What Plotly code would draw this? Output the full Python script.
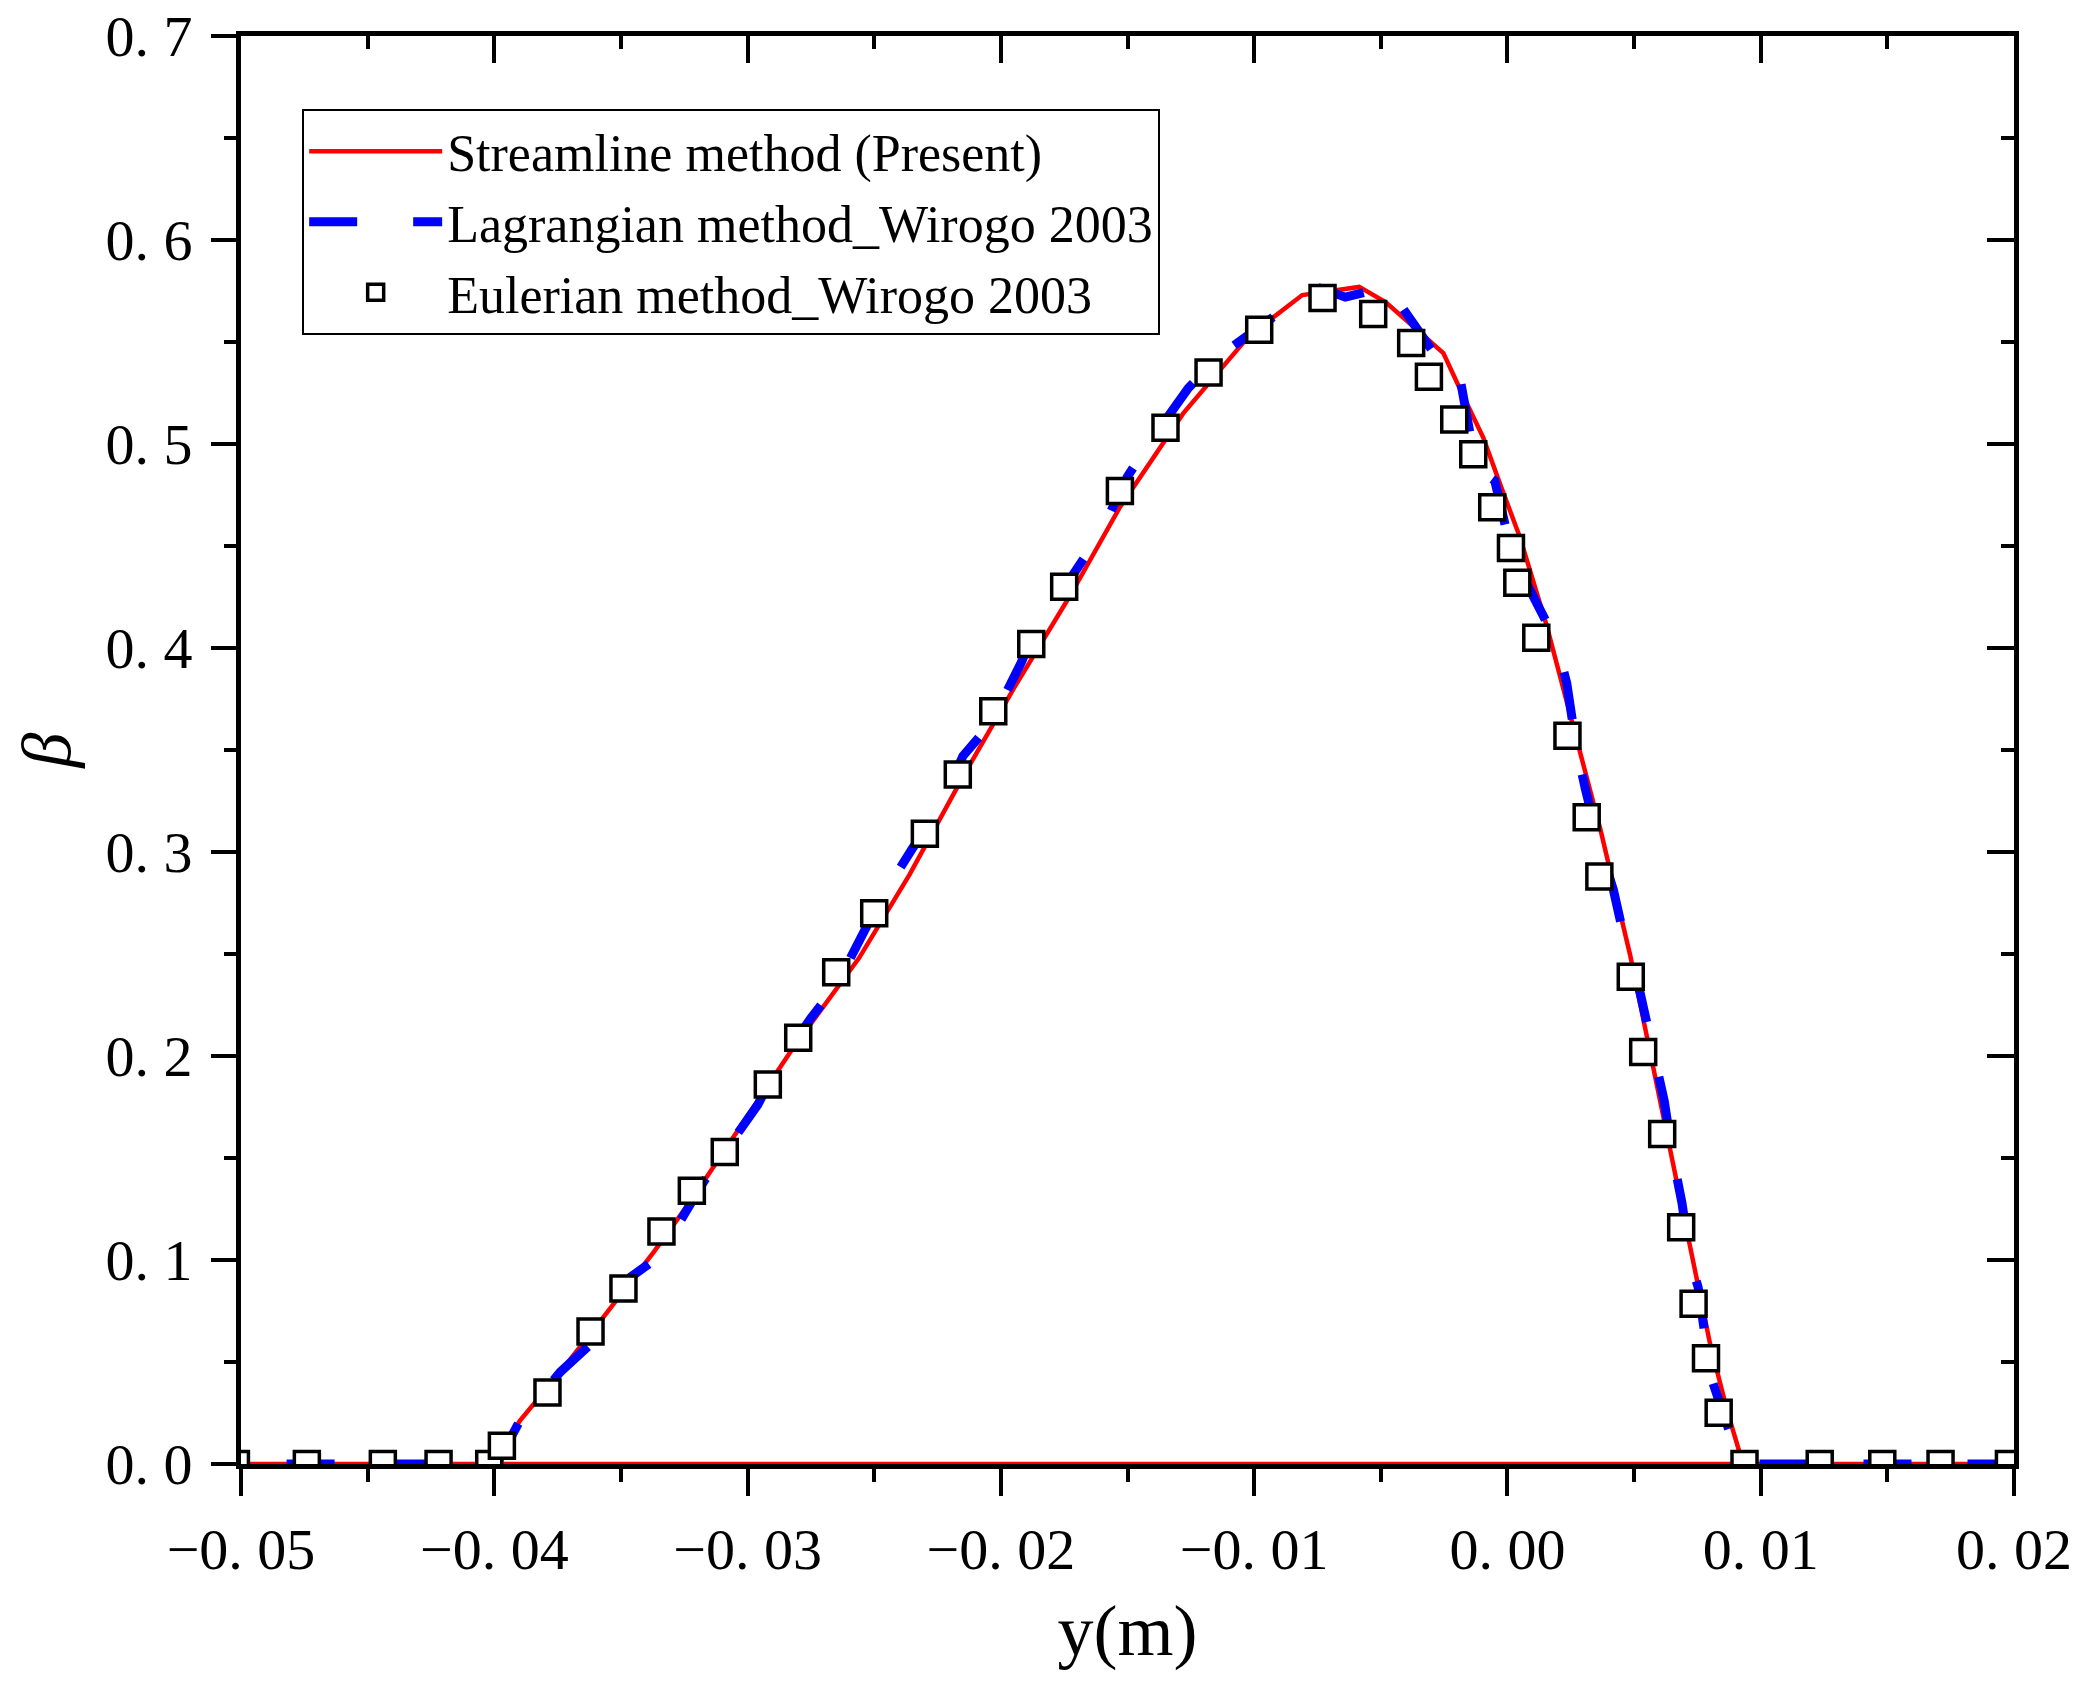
import plotly.graph_objects as go

# --- data ---
# Streamline method (Present) -- red line (closes back along beta = 0)
red_y = [-0.0500, -0.0400, -0.0390, -0.0374, -0.0356, -0.0337, -0.0323, -0.0307,
         -0.0282, -0.0256, -0.0236, -0.0214, -0.0195, -0.0173, -0.0153, -0.0128,
         -0.0102, -0.0081, -0.00585, -0.0048, -0.00253, -0.0018, -0.00095, -0.00029,
         0.0005, 0.00155, 0.0026, 0.00366, 0.00484, 0.0060, 0.0070, 0.0080,
         0.0087, 0.0093, 0.0200, -0.0500]
red_beta = [0.0, 0.0, 0.021, 0.045, 0.0735, 0.104, 0.128, 0.158,
            0.204, 0.248, 0.289, 0.339, 0.380, 0.425, 0.469, 0.515,
            0.553, 0.573, 0.577, 0.5695, 0.5446, 0.525, 0.503, 0.4804,
            0.454, 0.411, 0.362, 0.3116, 0.2497, 0.180, 0.118, 0.059,
            0.025, 0.0, 0.0, 0.0]

# Lagrangian method_Wirogo 2003 -- blue dashed line
blue_y = [-0.0482, -0.0399, -0.0390, -0.0374, -0.0363, -0.0346, -0.0335, -0.0330,
          -0.0317, -0.0296, -0.0289, -0.0275, -0.0265, -0.0254, -0.0247, -0.0235,
          -0.0224, -0.0215, -0.0204, -0.0192, -0.0186, -0.0172, -0.0161, -0.0150,
          -0.0141, -0.0126, -0.0113, -0.0091, -0.0082, -0.0076, -0.0064, -0.0053,
          -0.0046, -0.0041, -0.0034, -0.0027, -0.0020, -0.0018, -0.00124, -0.0005,
          0.00017, 0.00069, 0.00188, 0.00234, 0.00274, 0.00307, 0.00363, 0.00418,
          0.00471, 0.00524, 0.00583, 0.00619, 0.00654, 0.00689, 0.00725, 0.00753,
          0.00803, 0.00846, 0.0092, 0.0198]
blue_beta = [0.0, 0.0, 0.021, 0.045, 0.0576, 0.0918, 0.1016, 0.112,
             0.139, 0.176, 0.193, 0.2186, 0.2345, 0.261, 0.278, 0.3016,
             0.322, 0.347, 0.363, 0.3927, 0.4106, 0.435, 0.4555, 0.4841,
             0.5013, 0.5274, 0.5438, 0.5636, 0.5743, 0.5773, 0.572, 0.5754,
             0.578, 0.566, 0.553, 0.541, 0.541, 0.527, 0.489, 0.482,
             0.4466, 0.4333, 0.4045, 0.3829, 0.350, 0.3313, 0.3032, 0.2816,
             0.2525, 0.2309, 0.2006, 0.178, 0.150, 0.128, 0.098, 0.0867,
             0.0428, 0.028, 0.0, 0.0]

# Eulerian method_Wirogo 2003 -- open squares
eul_y = [-0.0502, -0.0474, -0.0444, -0.0422, -0.0402, -0.0397, -0.0379, -0.0362,
         -0.0349, -0.0334, -0.0322, -0.0309, -0.0292, -0.0280, -0.0265, -0.0250,
         -0.0230, -0.0217, -0.0203, -0.0188, -0.0175, -0.0153, -0.0135, -0.0118,
         -0.0098, -0.0073, -0.0053, -0.0038, -0.0031, -0.0021, -0.00135, -0.0006,
         0.00014, 0.00039, 0.00114, 0.00237, 0.00313, 0.00363, 0.00487, 0.00536,
         0.00611, 0.00686, 0.00735, 0.00784, 0.00834, 0.00936, 0.01233, 0.0148,
         0.0171, 0.0198]
eul_beta = [0.0, 0.0, 0.0, 0.0, 0.0, 0.009, 0.035, 0.065,
            0.086, 0.114, 0.134, 0.153, 0.186, 0.209, 0.241, 0.270,
            0.309, 0.338, 0.369, 0.402, 0.430, 0.477, 0.508, 0.535,
            0.556, 0.5716, 0.5637, 0.5495, 0.533, 0.512, 0.495, 0.469,
            0.449, 0.432, 0.405, 0.357, 0.317, 0.288, 0.2388, 0.2019,
            0.1618, 0.1161, 0.0786, 0.0518, 0.0251, 0.0, 0.0, 0.0,
            0.0, 0.0]

# tick labels (Origin style, with a space after the point)
x_ticks = [-0.05, -0.04, -0.03, -0.02, -0.01, 0.0, 0.01, 0.02]
x_labels = ['\u22120. 05', '\u22120. 04', '\u22120. 03', '\u22120. 02', '\u22120. 01',
            '0. 00', '0. 01', '0. 02']
y_ticks = [0.0, 0.1, 0.2, 0.3, 0.4, 0.5, 0.6, 0.7]
y_labels = ['0. 0', '0. 1', '0. 2', '0. 3', '0. 4', '0. 5', '0. 6', '0. 7']

FONT = 'Liberation Serif'
X_RANGE = [-0.05, 0.02]
Y_RANGE = [0.0, 0.7]

fig = go.Figure()
fig.add_trace(go.Scatter(
    x=red_y, y=red_beta, mode='lines', name='Streamline method (Present)',
    line=dict(color='#ff0000', width=4.5)
))
fig.add_trace(go.Scatter(
    x=blue_y, y=blue_beta, mode='lines', name='Lagrangian method_Wirogo 2003',
    line=dict(color='#0000ff', width=9, dash='48px,56px')
))
fig.add_trace(go.Scatter(
    x=eul_y, y=eul_beta, mode='markers', name='Eulerian method_Wirogo 2003',
    marker=dict(symbol='square', size=25, color='white',
                line=dict(color='black', width=3.5))
))
# empty trace so the mirrored top/right frame axes get drawn
fig.add_trace(go.Scatter(x=[], y=[], xaxis='x2', yaxis='y2',
                         showlegend=False, hoverinfo='skip'))

axis_common = dict(showline=True, linecolor='black', linewidth=5,
                   showgrid=False, zeroline=False, tickcolor='black', tickwidth=4)

fig.update_layout(
    template='none',
    width=2075, height=1685,
    paper_bgcolor='white', plot_bgcolor='white',
    margin=dict(l=233, r=69, t=28, b=229, pad=0),
    font=dict(family=FONT, color='black', size=58),
    xaxis=dict(
        range=X_RANGE, tickmode='array', tickvals=x_ticks, ticktext=x_labels,
        ticks='outside', ticklen=27, ticklabelstandoff=3,
        ticklabeloverflow='allow', automargin='bottom',
        tickfont=dict(family=FONT, size=58),
        minor=dict(tickmode='linear', tick0=-0.05, dtick=0.005, ticks='outside',
                   ticklen=13, tickwidth=4, tickcolor='black'),
        title=dict(text='y(m)', font=dict(family=FONT, size=72), standoff=26),
        **axis_common
    ),
    yaxis=dict(
        range=Y_RANGE, tickmode='array', tickvals=y_ticks, ticktext=y_labels,
        ticks='outside', ticklen=25, ticklabelstandoff=7,
        ticklabeloverflow='allow', automargin=False,
        tickfont=dict(family=FONT, size=58),
        minor=dict(tickmode='linear', tick0=0, dtick=0.05, ticks='outside',
                   ticklen=12, tickwidth=4, tickcolor='black'),
        title=dict(text='<i>\u03b2</i>', font=dict(family=FONT, size=70), standoff=71),
        **axis_common
    ),
    # mirrored frame with inward ticks (top / right)
    xaxis2=dict(
        range=X_RANGE, overlaying='x', side='top', anchor='y2',
        tickmode='array', tickvals=x_ticks, showticklabels=False,
        ticks='inside', ticklen=27, automargin=False,
        minor=dict(tickmode='linear', tick0=-0.05, dtick=0.005, ticks='inside',
                   ticklen=13, tickwidth=4, tickcolor='black'),
        **axis_common
    ),
    yaxis2=dict(
        range=Y_RANGE, overlaying='y', side='right', anchor='x2',
        tickmode='array', tickvals=y_ticks, showticklabels=False,
        ticks='inside', ticklen=27, automargin=False,
        minor=dict(tickmode='linear', tick0=0, dtick=0.05, ticks='inside',
                   ticklen=13, tickwidth=4, tickcolor='black'),
        **axis_common
    ),
    legend=dict(
        x=0.0345, y=0.949, xanchor='left', yanchor='top',
        bgcolor='white', bordercolor='black', borderwidth=2,
        font=dict(family=FONT, size=52), itemwidth=133,
        tracegroupgap=0
    ),
    showlegend=True
)

fig.write_html("out.html")
